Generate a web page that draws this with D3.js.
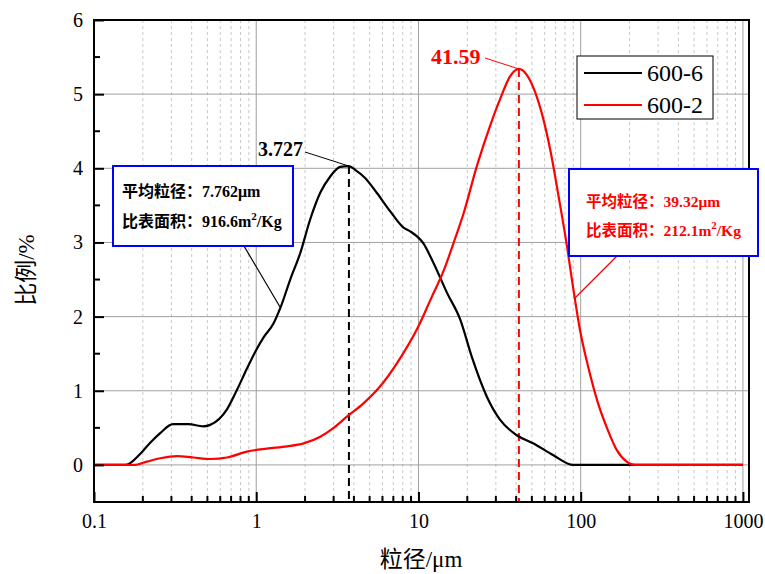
<!DOCTYPE html>
<html>
<head>
<meta charset="utf-8">
<script src="https://cdn.jsdelivr.net/npm/d3@7/dist/d3.min.js"></script>
<style>
  body { margin: 0; background: #fff; }
  text { font-family: "Times New Roman", "Liberation Serif", "Noto Sans CJK SC", serif; }
</style>
</head>
<body>
<script>
// particle size (um) and fraction (%)
var size66 = [0.1, 0.157, 0.193, 0.222, 0.256, 0.307, 0.383, 0.47, 0.52, 0.66, 0.76, 0.877, 1.0, 1.11, 1.28, 1.41, 1.62, 1.87, 2.15, 2.48, 2.86, 3.29, 3.727, 4.07, 4.69, 5.53, 6.7, 8.09, 8.89, 10.7, 12.4, 15.0, 18.1, 21.3, 26.4, 31.8, 40.4, 51.2, 67.9, 90, 1000];
var ratio66 = [0, 0, 0.15, 0.30, 0.43, 0.55, 0.55, 0.52, 0.54, 0.75, 1.01, 1.30, 1.55, 1.72, 1.91, 2.12, 2.50, 2.86, 3.31, 3.67, 3.89, 4.02, 4.03, 3.98, 3.87, 3.67, 3.42, 3.20, 3.15, 2.99, 2.72, 2.32, 1.96, 1.46, 0.92, 0.61, 0.40, 0.29, 0.13, 0, 0];
var size62 = [0.1, 0.176, 0.212, 0.256, 0.325, 0.41, 0.52, 0.66, 0.877, 1.16, 1.55, 1.96, 2.48, 3.0, 3.62, 4.58, 5.81, 7.36, 10, 12.1, 14.3, 16.8, 18.9, 22.9, 27.6, 31.8, 36.7, 41.59, 46.5, 52.5, 58.9, 64.9, 73.1, 82.3, 88.3, 99, 111, 128, 147, 167, 192, 216, 1000];
var ratio62 = [0, 0, 0.045, 0.09, 0.12, 0.10, 0.08, 0.10, 0.18, 0.22, 0.25, 0.29, 0.38, 0.50, 0.65, 0.83, 1.06, 1.37, 1.87, 2.27, 2.62, 3.05, 3.38, 4.03, 4.57, 4.93, 5.24, 5.34, 5.26, 5.02, 4.66, 4.25, 3.62, 2.95, 2.50, 1.82, 1.33, 0.83, 0.47, 0.20, 0.045, 0, 0];

var seriesNames = ["600-6", "600-2"];
var seriesColors = ["#000", "#ff0000"];
var peakSize = [3.727, 41.59];
var peakRatio = [4.03, 5.34];
var meanSize = ["7.762", "39.32"];
var specArea = ["916.6", "212.1"];

var xTicks = [0.1, 1, 10, 100, 1000];
var yTicks = [0, 1, 2, 3, 4, 5, 6];
var yMinor = [0.5, 1.5, 2.5, 3.5, 4.5, 5.5];

var W = 765, H = 574;
var svg = d3.select("body").append("svg").attr("width", W).attr("height", H);

var x = d3.scaleLog().domain([0.1, 1090]).range([94, 749]);
var y = d3.scaleLinear().domain([-0.5, 6]).range([502, 20]);

// minor x values 2..9 per decade
var xMinor = [];
[0.1, 1, 10, 100].forEach(function(d) {
  for (var k = 2; k <= 9; k++) xMinor.push(d * k);
});

// grid
svg.selectAll(".gminor").data(xMinor).enter().append("line")
  .attr("x1", d => x(d)).attr("x2", d => x(d))
  .attr("y1", y(6)).attr("y2", y(-0.5))
  .attr("stroke", "#c8c8c8").attr("stroke-width", 1).attr("stroke-dasharray", "3,3");
svg.selectAll(".gx").data(xTicks.slice(1)).enter().append("line")
  .attr("x1", d => x(d)).attr("x2", d => x(d))
  .attr("y1", y(6)).attr("y2", y(-0.5))
  .attr("stroke", "#a0a0a0").attr("stroke-width", 1);
svg.selectAll(".gy").data(yTicks.slice(0, -1)).enter().append("line")
  .attr("x1", x(0.1)).attr("x2", x(1090))
  .attr("y1", d => y(d)).attr("y2", d => y(d))
  .attr("stroke", "#a0a0a0").attr("stroke-width", 1);

// peak dashed lines
svg.selectAll(".peakline").data(peakSize).enter().append("line")
  .attr("x1", d => x(d)).attr("x2", d => x(d))
  .attr("y1", (d, i) => y(peakRatio[i])).attr("y2", y(-0.5))
  .attr("stroke", (d, i) => seriesColors[i]).attr("stroke-width", 2)
  .attr("stroke-dasharray", "8,5");

// curves
var line = d3.line().x(d => x(d[0])).y(d => y(d[1])).curve(d3.curveMonotoneX);
var series = [d3.zip(size66, ratio66), d3.zip(size62, ratio62)];
svg.selectAll(".curve").data(series).enter().append("path")
  .attr("d", line).attr("fill", "none")
  .attr("stroke", (d, i) => seriesColors[i]).attr("stroke-width", 2.2);

// axes
var yAxis = d3.axisLeft(y).tickValues(yTicks).tickFormat(d3.format("d")).tickSize(-10).tickPadding(11);
var gy = svg.append("g").attr("transform", "translate(94,0)").call(yAxis);
gy.select(".domain").remove();
gy.selectAll("text").attr("font-size", 20).attr("fill", "#000");
gy.selectAll("line").attr("stroke", "#000").attr("stroke-width", 2);
svg.selectAll(".ymin").data(yMinor).enter().append("line")
  .attr("x1", 94).attr("x2", 100).attr("y1", d => y(d)).attr("y2", d => y(d))
  .attr("stroke", "#000").attr("stroke-width", 2);

var xAxis = d3.axisBottom(x).tickValues(xTicks).tickFormat(d => String(d)).tickSize(-10).tickPadding(12);
var gx = svg.append("g").attr("transform", "translate(0,502)").call(xAxis);
gx.select(".domain").remove();
gx.selectAll("text").attr("font-size", 20).attr("fill", "#000");
gx.selectAll("line").attr("stroke", "#000").attr("stroke-width", 2);
svg.selectAll(".xmin").data(xMinor).enter().append("line")
  .attr("x1", d => x(d)).attr("x2", d => x(d)).attr("y1", 502).attr("y2", 496)
  .attr("stroke", "#000").attr("stroke-width", 2);

// frame
svg.append("rect").attr("x", x(0.1)).attr("y", y(6))
  .attr("width", x(1090) - x(0.1)).attr("height", y(-0.5) - y(6))
  .attr("fill", "none").attr("stroke", "#000").attr("stroke-width", 2);

// axis titles
svg.append("text").attr("x", 421).attr("y", 567).attr("text-anchor", "middle")
  .attr("font-size", 23).text("粒径/μm");
svg.append("text").attr("transform", "translate(34,270) rotate(-90)")
  .attr("text-anchor", "middle").attr("font-size", 23).text("比例/%");

// peak labels
var peakLabelPos = [[258, 156, 305, 152, 20], [431, 64, 485, 58, 22]];
peakSize.forEach(function(p, i) {
  var pos = peakLabelPos[i];
  svg.append("text").attr("x", pos[0]).attr("y", pos[1])
    .attr("font-size", pos[4]).attr("font-weight", "bold").attr("fill", seriesColors[i]).text(p);
  svg.append("line").attr("x1", pos[2]).attr("y1", pos[3])
    .attr("x2", x(p)).attr("y2", y(peakRatio[i]))
    .attr("stroke", seriesColors[i]).attr("stroke-width", 1);
});

// info boxes
var boxes = [
  {x: 113, y: 166, w: 180, h: 80, tx: 122, lx1: 244, lx2: 280, ly2: 307, fs: 16},
  {x: 569, y: 169, w: 189, h: 87, tx: 586, lx1: 617, lx2: 575, ly2: 298, fs: 15.5}
];
boxes.forEach(function(b, i) {
  svg.append("line").attr("x1", b.lx1).attr("y1", b.y + b.h).attr("x2", b.lx2).attr("y2", b.ly2)
    .attr("stroke", seriesColors[i]).attr("stroke-width", 1.2);
  svg.append("rect").attr("x", b.x).attr("y", b.y).attr("width", b.w).attr("height", b.h)
    .attr("fill", "#fff").attr("stroke", "#0000ff").attr("stroke-width", 2);
  var off = i === 0 ? [31, 61] : [38, 67];
  svg.append("text").attr("x", b.tx).attr("y", b.y + off[0])
    .attr("font-size", b.fs).attr("font-weight", "bold").attr("fill", seriesColors[i])
    .text("平均粒径：" + meanSize[i] + "μm");
  var t = svg.append("text").attr("x", b.tx).attr("y", b.y + off[1])
    .attr("font-size", b.fs).attr("font-weight", "bold").attr("fill", seriesColors[i]);
  t.append("tspan").text("比表面积：" + specArea[i] + "m");
  t.append("tspan").attr("font-size", 11).attr("dy", -7).text("2");
  t.append("tspan").attr("dy", 7).text("/Kg");
});

// legend
var lg = svg.append("g").attr("transform", "translate(577,56)");
lg.append("rect").attr("width", 136).attr("height", 63)
  .attr("fill", "#fff").attr("stroke", "#000").attr("stroke-width", 1);
seriesNames.forEach(function(n, i) {
  lg.append("line").attr("x1", 7).attr("x2", 65).attr("y1", 17 + i * 32).attr("y2", 17 + i * 32)
    .attr("stroke", seriesColors[i]).attr("stroke-width", 2);
  lg.append("text").attr("x", 70).attr("y", 25 + i * 32).attr("font-size", 24).text(n);
});
</script>
</body>
</html>
